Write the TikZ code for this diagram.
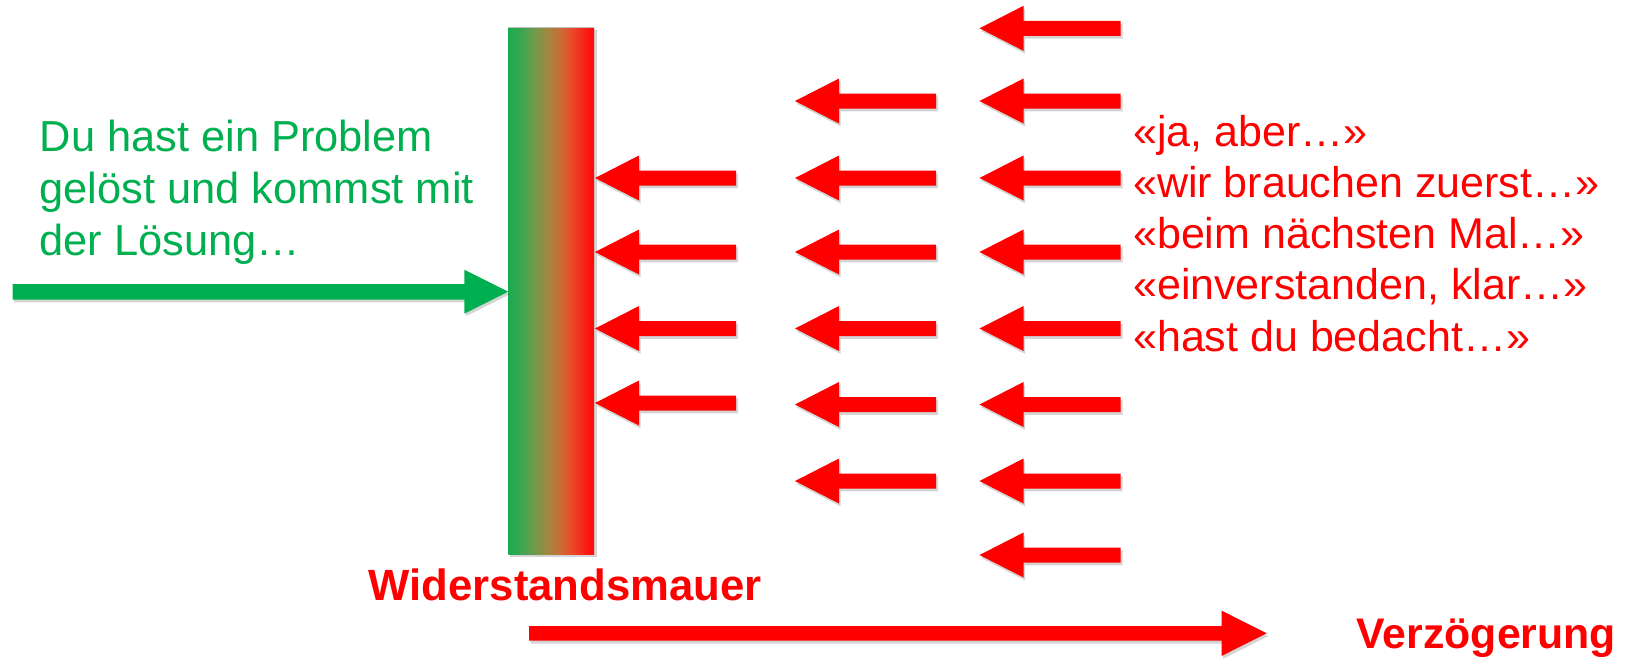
\documentclass[tikz,border=0pt]{standalone}
\usepackage{fontspec}
\setmainfont{Liberation Sans}
\definecolor{gr}{RGB}{0,176,80}
\definecolor{rd}{RGB}{255,0,0}
\definecolor{wg}{RGB}{25,172,80}
\definecolor{wa}{RGB}{60,165,80}
\definecolor{wb}{RGB}{110,155,75}
\definecolor{wc}{RGB}{160,135,65}
\definecolor{wd}{RGB}{200,110,55}
\definecolor{we}{RGB}{235,70,40}
\definecolor{wf}{RGB}{250,30,20}
\definecolor{wh}{RGB}{255,8,8}
\pgfdeclarehorizontalshading{wallshade}{100bp}{color(0bp)=(wg); color(25bp)=(wg); color(32.5bp)=(wa); color(40bp)=(wb); color(47.5bp)=(wc); color(55bp)=(wd); color(62.5bp)=(we); color(70bp)=(wf); color(75bp)=(wh); color(100bp)=(wh)}
\tikzset{
  shadowfill/.style={fill=black, opacity=0.17},
  larrow/.pic={
    \fill[shadowfill] (1.5,2.8) -- (45.5,-19.7) -- (45.5,-4.7) -- (143,-4.7) -- (143,10.3) -- (45.5,10.3) -- (45.5,25.3) -- cycle;
    \fill[rd] (0,0) -- (44,-22.5) -- (44,-7.5) -- (141,-7.5) -- (141,7.5) -- (44,7.5) -- (44,22.5) -- cycle;
  },
  greentext/.style={anchor=base west, inner sep=0, text=gr, font=\fontsize{43.4}{50}\selectfont},
  redtext/.style={anchor=base west, inner sep=0, text=rd, font=\fontsize{43}{50}\selectfont},
  boldred/.style={anchor=base west, inner sep=0, text=rd, font=\fontsize{43.7}{50}\selectfont\bfseries},
}
\begin{document}
\begin{tikzpicture}[x=1pt, y=-1pt]
\useasboundingbox (0,0) rectangle (1625,659);
\fill[white] (0,0) rectangle (1625,659);

% wall
\fill[shadowfill] (510,30) rectangle (596.5,557);
\shade[shading=wallshade] (508.3,27.3) rectangle (594,554);
\draw[black!25, line width=0.8] (508.3,27.3) -- (594,27.3);

% green arrow
\fill[shadowfill] (14,286.8) -- (465.8,286.8) -- (465.8,272.2) -- (509.8,294.4) -- (465.8,316.2) -- (465.8,302.3) -- (14,302.3) -- cycle;
\fill[gr] (12.7,284) -- (464.3,284) -- (464.3,269.7) -- (508.3,291.7) -- (464.3,313.7) -- (464.3,299.5) -- (12.7,299.5) -- cycle;

% red arrows, column 1
\foreach \yy in {178,252,328.5,403} \pic at (595,\yy) {larrow};
% column 2
\foreach \yy in {101,178,252,328.5,404.5,481} \pic at (795,\yy) {larrow};
% column 3
\foreach \yy in {28.3,101,178,252,328.5,404.5,481,555} \pic at (979.5,\yy) {larrow};

% bottom arrow
\fill[shadowfill] (530.5,628.8) -- (1223.2,628.8) -- (1223.2,613.5) -- (1268.2,636.1) -- (1223.2,658.7) -- (1223.2,643.5) -- (530.5,643.5) -- cycle;
\fill[rd] (529,626) -- (1221.7,626) -- (1221.7,610.7) -- (1266.7,633.3) -- (1221.7,655.9) -- (1221.7,640.7) -- (529,640.7) -- cycle;

% texts
\node[greentext] (g1) at (39.5,151) {Du hast ein Problem};
\node[greentext] (g2) at (39.5,203) {gelöst und kommst mit};
\node[greentext] (g3) at (39.5,255) {der Lösung…};

\node[redtext] (r1) at (1133,146) {«ja, aber…»};
\node[redtext] (r2) at (1133,197.3) {«wir brauchen zuerst…»};
\node[redtext] (r3) at (1133,248.6) {«beim nächsten Mal…»};
\node[redtext] (r4) at (1133,299.9) {«einverstanden, klar…»};
\node[redtext] (r5) at (1133,351.2) {«hast du bedacht…»};

\node[boldred] (wm) at (368.5,600) {Widerstandsmauer};
\node[boldred, font=\fontsize{42.8}{50}\selectfont\bfseries] (vz) at (1356.5,648) {Verzögerung};
\end{tikzpicture}
\end{document}
